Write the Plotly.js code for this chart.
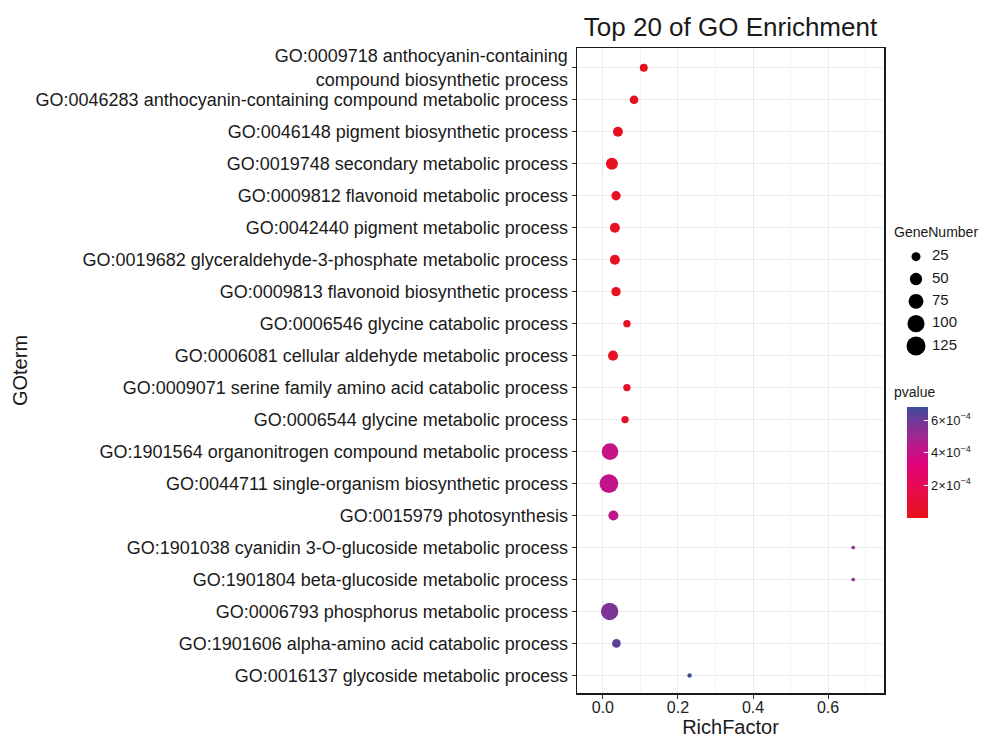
<!DOCTYPE html>
<html>
<head>
<meta charset="utf-8">
<script src="https://cdn.plot.ly/plotly-3.0.1.min.js"></script>
<style>
html,body{margin:0;padding:0;background:#fff;}
#chart{width:992px;height:738px;}
</style>
</head>
<body>
<div id="chart"></div>
<script>
// ---- data ----
var goTerms = [
  "GO:0009718 anthocyanin-containing<br>compound biosynthetic process",
  "GO:0046283 anthocyanin-containing compound metabolic process",
  "GO:0046148 pigment biosynthetic process",
  "GO:0019748 secondary metabolic process",
  "GO:0009812 flavonoid metabolic process",
  "GO:0042440 pigment metabolic process",
  "GO:0019682 glyceraldehyde-3-phosphate metabolic process",
  "GO:0009813 flavonoid biosynthetic process",
  "GO:0006546 glycine catabolic process",
  "GO:0006081 cellular aldehyde metabolic process",
  "GO:0009071 serine family amino acid catabolic process",
  "GO:0006544 glycine metabolic process",
  "GO:1901564 organonitrogen compound metabolic process",
  "GO:0044711 single-organism biosynthetic process",
  "GO:0015979 photosynthesis",
  "GO:1901038 cyanidin 3-O-glucoside metabolic process",
  "GO:1901804 beta-glucoside metabolic process",
  "GO:0006793 phosphorus metabolic process",
  "GO:1901606 alpha-amino acid catabolic process",
  "GO:0016137 glycoside metabolic process"
];
var richFactor = [0.109, 0.083, 0.040, 0.024, 0.035, 0.032, 0.032, 0.035, 0.064, 0.027,
                  0.064, 0.059, 0.019, 0.016, 0.028, 0.667, 0.667, 0.018, 0.036, 0.231];
var geneNumber = [19, 23, 31, 47, 27, 31, 31, 27, 16, 32,
                  16, 16, 95, 121, 32, 3, 3, 103, 23, 5];
var pValue = [1.0e-5, 1.5e-5, 1.5e-5, 2.0e-5, 1.8e-5, 2.0e-5, 2.0e-5, 2.0e-5, 3.0e-5, 3.0e-5,
              3.5e-5, 4.0e-5, 4.1e-4, 4.15e-4, 4.25e-4, 5.4e-4, 5.4e-4, 5.7e-4, 6.25e-4, 6.8e-4];
var sizeBreaks = [25, 50, 75, 100, 125];
var pTickVals = [2e-4, 4e-4, 6e-4];
var pTickText = ["2×10<sup>−4</sup>", "4×10<sup>−4</sup>", "6×10<sup>−4</sup>"];
var xTickVals = [0.0, 0.2, 0.4, 0.6];
var xTickText = ["0.0", "0.2", "0.4", "0.6"];

// size scale (gene number -> marker diameter in px)
function sizeScale(n){ return 0.9 + 1.62 * Math.sqrt(n); }

var FONT = "Liberation Sans, Arial, sans-serif";
var TXT = '#1a1a1a';
var W = 992, H = 738;
var L = 577, R = 0, T = 48, B = 45;
var paperW = W - L - R;
var plotRightPx = 884;
var mainDomainX = (plotRightPx - L) / paperW;
var paperH = H - T - B;
function pxX(px){ return (px - L) / paperW; }
function pxY(py){ return (H - B - py) / paperH; }

var colorscale = [
  [0.0, '#E6121B'],
  [0.25, '#E60C4C'],
  [0.5, '#E0037E'],
  [0.72, '#A52591'],
  [0.88, '#6F3A98'],
  [1.0, '#3B4C9C']
];

var main = {
  type: 'scatter',
  mode: 'markers',
  x: richFactor,
  y: goTerms,
  xaxis: 'x', yaxis: 'y',
  marker: {
    size: geneNumber.map(sizeScale),
    sizemode: 'diameter',
    color: pValue,
    cmin: 0,
    cmax: 6.8e-4,
    colorscale: colorscale,
    opacity: 1,
    line: {width: 0},
    colorbar: {
      xref: 'paper', yref: 'paper',
      x: pxX(907), xanchor: 'left',
      y: pxY(518), yanchor: 'bottom',
      lenmode: 'pixels', len: 111,
      thickness: 21, thicknessmode: 'pixels',
      xpad: 0, ypad: 0,
      outlinewidth: 0,
      tickvals: pTickVals,
      ticktext: pTickText,
      ticks: 'inside', ticklen: 4, tickcolor: '#ffffff', tickwidth: 1,
      tickfont: {family: FONT, size: 13, color: TXT},
      title: {text: ''}
    }
  },
  hoverinfo: 'x+y',
  showlegend: false
};

var legendMarkers = {
  type: 'scatter',
  mode: 'markers',
  x: sizeBreaks.map(function(){ return 0; }),
  y: sizeBreaks.map(function(v, i){ return i; }),
  xaxis: 'x2', yaxis: 'y2',
  marker: {size: sizeBreaks.map(sizeScale), sizemode: 'diameter', color: '#000000', opacity: 1, line: {width: 0}},
  hoverinfo: 'skip',
  showlegend: false
};
var legendLabels = {
  type: 'scatter',
  mode: 'text',
  x: sizeBreaks.map(function(){ return 1.0; }),
  y: sizeBreaks.map(function(v, i){ return i; }),
  text: sizeBreaks.map(String),
  textposition: 'middle right',
  textfont: {family: FONT, size: 15, color: TXT},
  xaxis: 'x2', yaxis: 'y2',
  hoverinfo: 'skip',
  showlegend: false
};

var layout = {
  width: W, height: H,
  margin: {l: L, r: R, t: T, b: B, pad: 0, autoexpand: false},
  paper_bgcolor: '#ffffff',
  plot_bgcolor: '#ffffff',
  font: {family: FONT, color: TXT},
  title: {
    text: 'Top 20 of GO Enrichment',
    font: {family: FONT, size: 26, color: TXT},
    xref: 'paper', x: mainDomainX / 2, xanchor: 'center',
    yref: 'container', y: 1 - 27 / H, yanchor: 'middle'
  },
  xaxis: {
    domain: [0, mainDomainX],
    range: [-0.069, 0.749],
    tickvals: xTickVals, ticktext: xTickText,
    ticks: 'outside', ticklen: 4, tickcolor: '#333333', tickwidth: 1,
    ticklabelstandoff: -5,
    tickfont: {family: FONT, size: 16, color: '#222222'},
    showgrid: true, gridcolor: '#EBEBEB', gridwidth: 1,
    minor: {dtick: 0.1, tick0: 0.1, showgrid: true, gridcolor: '#F3F3F3', gridwidth: 1, ticks: ''},
    zeroline: false,
    showline: true, mirror: true, linecolor: TXT, linewidth: 1.5,
    title: {text: 'RichFactor', font: {family: FONT, size: 20, color: TXT}, standoff: 5},
    automargin: false
  },
  yaxis: {
    domain: [0, 1],
    type: 'category',
    categoryorder: 'array', categoryarray: goTerms,
    range: [19.55, -0.62],
    ticks: 'outside', ticklen: 4, tickcolor: '#333333', tickwidth: 1,
    tickfont: {family: FONT, size: 18, color: TXT},
    showgrid: true, gridcolor: '#EBEBEB', gridwidth: 1,
    zeroline: false,
    showline: true, mirror: true, linecolor: TXT, linewidth: 1.5,
    title: {text: 'GOterm', font: {family: FONT, size: 20, color: TXT}, standoff: 2},
    automargin: false
  },
  xaxis2: {
    domain: [pxX(890), 1],
    range: [-1.625, 4.75],
    visible: false, fixedrange: true
  },
  yaxis2: {
    domain: [pxY(369), pxY(234)],
    range: [5.03, -1.016],
    visible: false, fixedrange: true
  },
  annotations: [{
    text: 'GeneNumber',
    xref: 'paper', yref: 'paper',
    x: pxX(892), xanchor: 'left',
    y: pxY(232), yanchor: 'middle',
    showarrow: false,
    font: {family: FONT, size: 14, color: TXT}
  }, {
    text: 'pvalue',
    xref: 'paper', yref: 'paper',
    x: pxX(892), xanchor: 'left',
    y: pxY(392), yanchor: 'middle',
    showarrow: false,
    font: {family: FONT, size: 14, color: TXT}
  }],
  showlegend: false
};

Plotly.newPlot('chart', [main, legendMarkers, legendLabels], layout, {displayModeBar: false, staticPlot: true});
</script>
</body>
</html>
